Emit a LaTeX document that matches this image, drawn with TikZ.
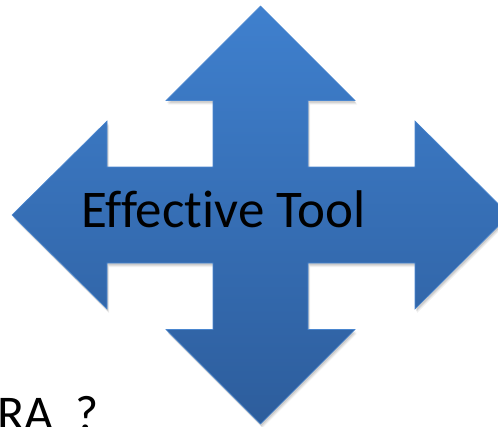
\documentclass[tikz,border=0pt]{standalone}
\usepackage{fontspec}
\setmainfont{Carlito}[Ligatures=CommonOff]
\definecolor{arrtop}{HTML}{3F80CE}
\definecolor{arrbot}{HTML}{2D5D9C}
\definecolor{arredge}{HTML}{4A86CF}
\begin{document}
\begin{tikzpicture}[x=1pt,y=-1pt,
  lbl/.style={inner sep=0pt, anchor=base west, text=black, font=\fontsize{53}{53}\selectfont},
  sidelbl/.style={inner sep=0pt, anchor=base west, text=black, font=\fontsize{50}{50}\selectfont}]
\useasboundingbox (0,0) rectangle (498,426);
\clip (0,0) rectangle (498,426);
\def\arrowpath{(260.5,6) -- (355,100.5) -- (308,100.5) -- (308,167) -- (415,167) -- (415,121) -- (509.5,215) -- (415,309) -- (415,263) -- (308,263) -- (308,329.5) -- (355,329.5) -- (260.5,424) -- (166,329.5) -- (213,329.5) -- (213,263) -- (107,263) -- (107,309) -- (12,215) -- (107,121) -- (107,167) -- (213,167) -- (213,100.5) -- (166,100.5) -- cycle}
% soft shadow
\foreach \d/\o in {4/0.05,3/0.07,2/0.09}{
  \fill[black, opacity=\o, shift={(\d*0.5,\d)}] \arrowpath;
}
\shade[top color=arrtop, bottom color=arrbot, draw=arredge, line width=0.6pt, line join=miter] \arrowpath;
\node[lbl] (t) at (81,227) {Effective Tool};
\node[sidelbl] (q) at (-3,430) {RA\hspace{0.45em}?};
\end{tikzpicture}
\end{document}
